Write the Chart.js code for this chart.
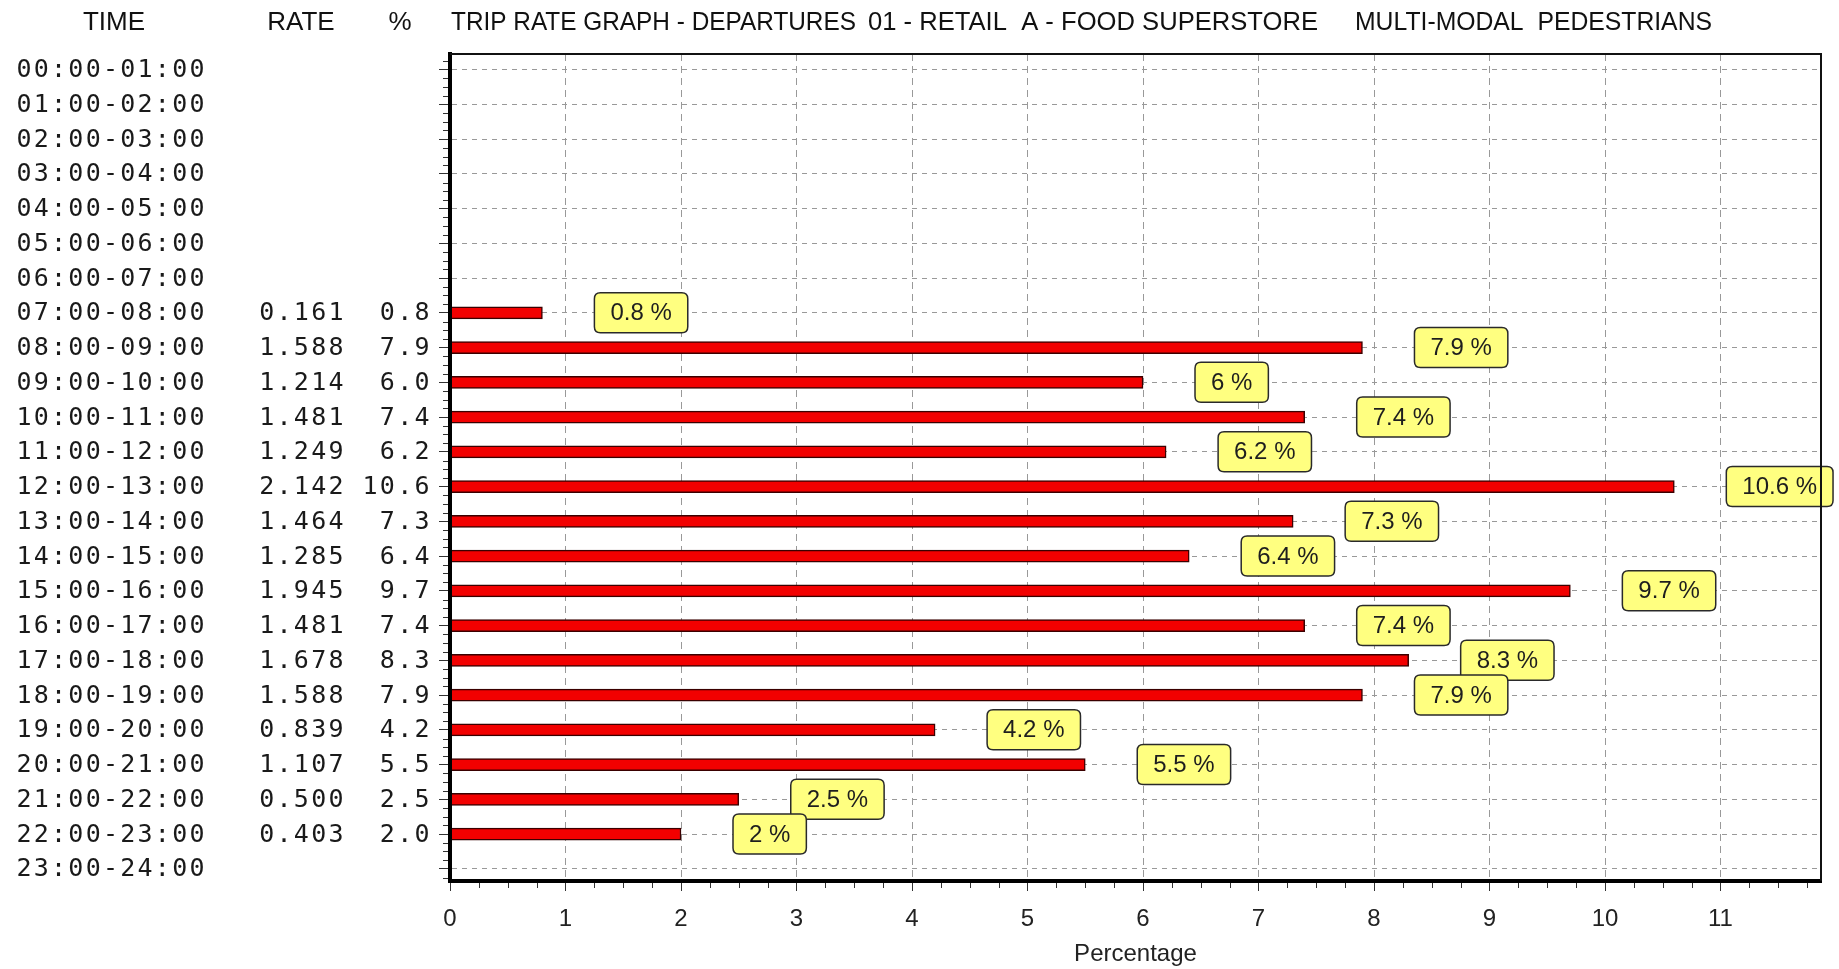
<!DOCTYPE html>
<html>
<head>
<meta charset="utf-8">
<title>Trip rate graph - departures</title>
<script src="https://cdn.jsdelivr.net/npm/chart.js@4.4.1/dist/chart.umd.min.js"></script>
<style>
  html, body { margin: 0; padding: 0; background: #fff; }
  #wrap { width: 1839px; height: 969px; }
</style>
</head>
<body>
<div id="wrap"><canvas id="tripChart" width="1839" height="969"></canvas></div>
<script>
// Rows of the table, top to bottom
const TIMES = [
  '00:00-01:00', '01:00-02:00', '02:00-03:00', '03:00-04:00', '04:00-05:00', '05:00-06:00',
  '06:00-07:00', '07:00-08:00', '08:00-09:00', '09:00-10:00', '10:00-11:00', '11:00-12:00',
  '12:00-13:00', '13:00-14:00', '14:00-15:00', '15:00-16:00', '16:00-17:00', '17:00-18:00',
  '18:00-19:00', '19:00-20:00', '20:00-21:00', '21:00-22:00', '22:00-23:00', '23:00-24:00'
];

// Trip rate per hour (blank hours = null)
const RATES = [
  null, null, null, null, null, null, null,
  0.161, 1.588, 1.214, 1.481, 1.249, 2.142, 1.464, 1.285, 1.945, 1.481, 1.678, 1.588,
  0.839, 1.107, 0.500, 0.403, null
];

// Share of the day's trips, %
const PERCENTS = [
  null, null, null, null, null, null, null,
  0.8, 7.9, 6.0, 7.4, 6.2, 10.6, 7.3, 6.4, 9.7, 7.4, 8.3, 7.9,
  4.2, 5.5, 2.5, 2.0, null
];

const X_TICKS = [0, 1, 2, 3, 4, 5, 6, 7, 8, 9, 10, 11];
const HEADINGS = ['TIME', 'RATE', '%'];
const TITLE_PARTS = ['TRIP RATE GRAPH - DEPARTURES', '01 - RETAIL  A - FOOD SUPERSTORE', 'MULTI-MODAL  PEDESTRIANS'];
const X_TITLE = 'Percentage';

// Fonts / drawing constants
const SANS = '"Liberation Sans", Arial, sans-serif';
const MONO = '25px "DejaVu Sans Mono", "Liberation Mono", monospace';
const PITCH = 17.3;

/**
 * Draw a string one char per fixed cell (wide-spaced mono look)
 */
function drawMono(ctx, text, x, y, alignRight) {
  const n = text.length;
  for (let i = 0; i < n; i++) {
    const cx = alignRight ? x - (n - 1 - i) * PITCH : x + i * PITCH;
    ctx.fillText(text[i], cx, y);
  }
}

function roundBox(ctx, x, y, w, h, r) {
  ctx.beginPath();
  ctx.moveTo(x + r, y);
  ctx.lineTo(x + w - r, y);
  ctx.quadraticCurveTo(x + w, y, x + w, y + r);
  ctx.lineTo(x + w, y + h - r);
  ctx.quadraticCurveTo(x + w, y + h, x + w - r, y + h);
  ctx.lineTo(x + r, y + h);
  ctx.quadraticCurveTo(x, y + h, x, y + h - r);
  ctx.lineTo(x, y + r);
  ctx.quadraticCurveTo(x, y, x + r, y);
  ctx.closePath();
}

function formatPct(v) {
  return `${+v.toFixed(1)} %`;
}

// Yellow value boxes next to each bar
const valueBoxes = {
  id: 'valueBoxes',
  afterDatasetsDraw(chart) {
    const ctx = chart.ctx;
    const meta = chart.getDatasetMeta(0);
    const points = chart.data.datasets[0].data;
    ctx.save();
    ctx.font = '24px ' + SANS;
    ctx.textBaseline = 'middle';
    ctx.textAlign = 'left';
    meta.data.forEach((bar, j) => {
      const label = formatPct(points[j].x);
      const tw = ctx.measureText(label).width;
      const bx = bar.x + 52;
      const bw = tw + 32;
      const bh = 40;
      const by = bar.y - bh / 2;
      roundBox(ctx, bx, by, bw, bh, 6);
      ctx.fillStyle = '#ffff80';
      ctx.fill();
      ctx.lineWidth = 1.5;
      ctx.strokeStyle = '#2a2a2a';
      ctx.stroke();
      ctx.fillStyle = '#1e1e1e';
      ctx.fillText(label, bx + 16, bar.y + 1);
    });
    ctx.restore();
  }
};

// Table columns, header, minor ticks and frame
const tableAndFrame = {
  id: 'tableAndFrame',
  afterDraw(chart) {
    const ctx = chart.ctx;
    const area = chart.chartArea;
    const xs = chart.scales.x;
    const ys = chart.scales.y;
    ctx.save();

    // minor ticks
    ctx.strokeStyle = '#333';
    ctx.lineWidth = 1;
    ctx.beginPath();
    for (let v = 0.25; v < xs.max; v += 0.25) {
      if (Number.isInteger(v)) continue;
      const px = Math.round(xs.getPixelForValue(v)) + 0.5;
      ctx.moveTo(px, area.bottom + 2);
      ctx.lineTo(px, area.bottom + 7);
    }
    for (let v = -0.25; v < ys.max; v += 0.25) {
      if (Number.isInteger(v)) continue;
      const py = Math.round(ys.getPixelForValue(v)) + 0.5;
      ctx.moveTo(area.left - 7, py);
      ctx.lineTo(area.left - 2, py);
    }
    ctx.stroke();

    // top and right frame
    ctx.strokeStyle = '#111';
    ctx.lineWidth = 2;
    ctx.beginPath();
    ctx.moveTo(area.left, area.top);
    ctx.lineTo(area.right, area.top);
    ctx.lineTo(area.right, area.bottom);
    ctx.stroke();

    // mono table columns
    ctx.font = MONO;
    ctx.fillStyle = '#1a1a1a';
    ctx.textAlign = 'center';
    ctx.textBaseline = 'middle';
    TIMES.forEach((t, i) => {
      const y = ys.getPixelForValue(i) + 1;
      drawMono(ctx, t, 24, y, false);
      if (RATES[i] !== null) drawMono(ctx, RATES[i].toFixed(3), 336, y, true);
      if (PERCENTS[i] !== null) drawMono(ctx, PERCENTS[i].toFixed(1), 422, y, true);
    });

    // header line
    ctx.font = '26px ' + SANS;
    ctx.fillStyle = '#111';
    const headX = [114, 301, 400];
    HEADINGS.forEach((h, i) => ctx.fillText(h, headX[i], 23));
    ctx.textAlign = 'left';
    const spans = [[451, 856], [868, 1318], [1355, 1712]];
    TITLE_PARTS.forEach((p, i) => ctx.fillText(p, spans[i][0], 23, spans[i][1] - spans[i][0]));

    ctx.restore();
  }
};

const ctx = document.getElementById('tripChart').getContext('2d');

new Chart(ctx, {
  type: 'bar',
  data: {
    datasets: [{
      label: '%',
      data: PERCENTS.map((v, i) => ({ x: v, y: i })).filter(p => p.x !== null),
      backgroundColor: '#f20000',
      borderColor: '#3a0000',
      borderWidth: 1.5,
      borderSkipped: false,
      barThickness: 12
    }]
  },
  options: {
    indexAxis: 'y',
    responsive: false,
    animation: false,
    events: [],
    layout: {
      padding: { top: 54, right: 18, left: 0, bottom: 0 }
    },
    plugins: {
      legend: { display: false },
      tooltip: { enabled: false },
      title: { display: false }
    },
    scales: {
      x: {
        type: 'linear',
        position: 'bottom',
        min: 0,
        max: 11.87,
        offset: false,
        afterBuildTicks: scale => { scale.ticks = X_TICKS.map(v => ({ value: v })); },
        afterFit: scale => { scale.height = 88; },
        grid: {
          offset: false,
          color: '#999',
          lineWidth: 1,
          tickLength: 10,
          tickColor: '#333',
          tickWidth: 1
        },
        border: { display: true, color: '#000', width: 4, dash: [7, 5], z: 1 },
        ticks: {
          color: '#222',
          padding: 14,
          font: { family: SANS, size: 24 }
        },
        title: {
          display: true,
          text: X_TITLE,
          color: '#222',
          font: { family: SANS, size: 24 },
          padding: { top: 0, bottom: 0 }
        }
      },
      y: {
        type: 'linear',
        reverse: true,
        min: -0.45,
        max: 23.35,
        offset: false,
        afterBuildTicks: scale => { scale.ticks = TIMES.map((_, i) => ({ value: i })); },
        afterFit: scale => { scale.width = 450; },
        grid: {
          offset: false,
          color: '#999',
          lineWidth: 1,
          tickLength: 11,
          tickColor: '#333',
          tickWidth: 1
        },
        border: { display: true, color: '#000', width: 4, dash: [5, 5], z: 1 },
        ticks: { display: false }
      }
    }
  },
  plugins: [valueBoxes, tableAndFrame]
});
</script>
</body>
</html>
